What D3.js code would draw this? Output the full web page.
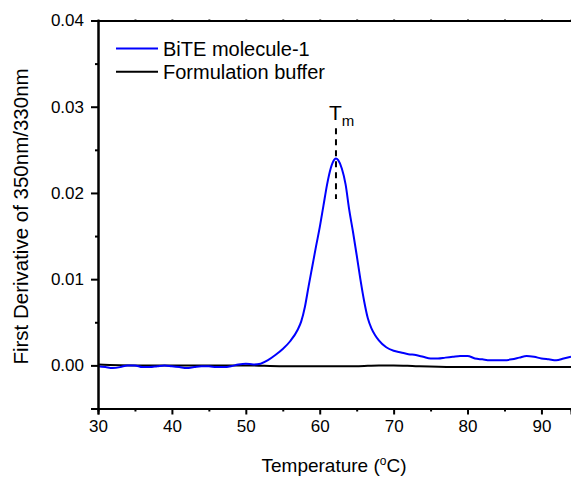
<!DOCTYPE html>
<html>
<head>
<meta charset="utf-8">
<script src="https://cdn.jsdelivr.net/npm/d3@7"></script>
<style>
  body { margin: 0; background: #fff; }
  svg { display: block; font-family: "Liberation Sans", Arial, sans-serif; }
</style>
</head>
<body>
<div id="chart"></div>
<script>
// temperatures (°C) and first derivative values
let bite_temp = [30, 31, 32, 33, 34, 35, 36, 37, 38, 39, 40, 41, 42, 43, 44, 45, 46, 47, 48, 49, 50, 51, 52, 53, 54, 55, 56, 57, 57.5, 58, 58.5, 59, 59.5, 60, 60.5, 61, 61.5, 62, 62.2, 62.5, 63, 63.5, 64, 64.5, 65, 65.5, 66, 66.5, 67, 67.5, 68, 69, 70, 71, 72, 73, 74, 75, 76, 77, 78, 79, 80, 81, 82, 83, 84, 85, 86, 87, 88, 89, 90, 91, 92, 93, 94]
let bite_val = [-0.0001, -0.0002, -0.0003, -0.0002, 0.0, 0.0, -0.0002, -0.0002, -0.0001, 0.0, -0.0001, -0.0002, -0.0003, -0.0002, -0.0001, -0.0001, -0.0002, -0.0002, -0.0001, 0.0001, 0.0002, 0.0001, 0.0002, 0.0006, 0.0012, 0.0019, 0.0028, 0.0041, 0.0051, 0.0068, 0.0092, 0.0115, 0.0138, 0.0160, 0.0185, 0.0210, 0.0229, 0.0239, 0.0240, 0.0238, 0.0228, 0.0210, 0.0180, 0.0155, 0.0128, 0.0100, 0.0075, 0.0055, 0.0043, 0.0035, 0.0029, 0.0021, 0.0017, 0.0015, 0.0013, 0.0012, 0.0010, 0.0008, 0.0008, 0.0009, 0.0010, 0.0011, 0.0011, 0.0008, 0.0007, 0.0006, 0.0006, 0.0006, 0.0007, 0.0009, 0.0011, 0.0010, 0.0008, 0.0007, 0.0006, 0.0008, 0.0010]

let buffer_temp = [30, 35, 40, 45, 50, 55, 60, 65, 68, 70, 73, 78, 85, 94]
let buffer_val = [0.0001, 0.0, 0.0, 0.0, 0.0, -0.0001, -0.0001, -0.0001, 0.0, 0.0, -0.0001, -0.0002, -0.0002, -0.0002]

let x_ticks = [30, 40, 50, 60, 70, 80, 90]
let y_ticks = [0.00, 0.01, 0.02, 0.03, 0.04]
let tm_temp = 62.2
let tm_range = [0.0193, 0.0275]

let series = [
    { name: 'BiTE molecule-1', color: '#0000ff', temp: bite_temp, val: bite_val },
    { name: 'Formulation buffer', color: '#000000', temp: buffer_temp, val: buffer_val }
]

let width = 571
let height = 478
let padding = { left: 98, right: 0, top: 20.5, bottom: 69.5 }

let svg = d3.select('#chart')
    .append('svg')
    .attr('width', width)
    .attr('height', height)

let x = d3.scaleLinear()
    .domain([30, 94])
    .range([padding.left, width - padding.right])
let y = d3.scaleLinear()
    .domain([-0.005, 0.04])
    .range([height - padding.bottom, padding.top])

// curves
let line = d3.line()
    .x(d => x(d[0]))
    .y(d => y(d[1]))
    .curve(d3.curveMonotoneX)

svg.append('g')
    .selectAll('path')
    .data(series.slice().reverse())
    .join('path')
    .attr('d', s => line(s.temp.map((t, i) => [t, s.val[i]])))
    .attr('fill', 'none')
    .attr('stroke', s => s.color)
    .attr('stroke-width', 2)

// Tm marker
svg.append('line')
    .attr('x1', x(tm_temp)).attr('x2', x(tm_temp))
    .attr('y1', y(tm_range[1])).attr('y2', y(tm_range[0]))
    .attr('stroke', '#000')
    .attr('stroke-width', 2)
    .attr('stroke-dasharray', '6,5')
let tm = svg.append('text')
    .attr('x', x(tm_temp) - 7)
    .attr('y', y(tm_range[1]) - 8)
    .attr('font-size', 21)
    .attr('fill', '#000')
tm.append('tspan').text('T')
tm.append('tspan').text('m').attr('font-size', 15).attr('dy', 6)

// axes
svg.append('g')
    .attr('transform', `translate(0,${y(-0.005)})`)
    .call(d3.axisBottom(x).tickValues(x_ticks).tickSize(6).tickPadding(5).tickFormat(d3.format('d')))
svg.append('g')
    .attr('transform', `translate(0,${y(-0.005)})`)
    .call(d3.axisBottom(x).tickValues(d3.range(35, 95, 10)).tickSize(3).tickFormat(''))
svg.append('g')
    .attr('transform', `translate(${x(30)},0)`)
    .call(d3.axisLeft(y).tickValues(y_ticks).tickSize(7).tickPadding(7).tickFormat(d3.format('.2f')))
svg.append('g')
    .attr('transform', `translate(${x(30)},0)`)
    .call(d3.axisLeft(y).tickValues([-0.005, 0.005, 0.015, 0.025, 0.035]).tickSize(3).tickFormat(''))
svg.append('g')
    .attr('transform', `translate(0,${y(0.04)})`)
    .call(d3.axisTop(x).tickValues(d3.range(35, 95, 5)).tickSize(1).tickFormat(''))

svg.selectAll('.domain, .tick line')
    .attr('stroke', '#000')
    .attr('stroke-width', 2)
svg.selectAll('.tick text')
    .attr('font-size', 17)
    .attr('fill', '#000')
    .attr('font-family', '"Liberation Sans", Arial, sans-serif')

// axis titles
let xl = svg.append('text')
    .attr('x', 334)
    .attr('y', 472)
    .attr('text-anchor', 'middle')
    .attr('font-size', 19)
xl.append('tspan').text('Temperature (')
xl.append('tspan').text('o').attr('font-size', 12).attr('dy', -7)
xl.append('tspan').text('C)').attr('dy', 7)

svg.append('text')
    .attr('transform', `translate(28,${(y(-0.005) + y(0.04)) / 2 + 2}) rotate(-90)`)
    .attr('text-anchor', 'middle')
    .attr('font-size', 20.5)
    .text('First Derivative of 350nm/330nm')

// legend
let legend = svg.append('g')
    .selectAll('g')
    .data(series)
    .join('g')
    .attr('transform', (d, i) => `translate(116,${48.5 + i * 23.3})`)
legend.append('line')
    .attr('x1', 0).attr('x2', 42)
    .attr('stroke', d => d.color)
    .attr('stroke-width', 2)
legend.append('text')
    .attr('x', 47)
    .attr('dy', '0.35em')
    .attr('font-size', 20)
    .text(d => d.name)
</script>
</body>
</html>
